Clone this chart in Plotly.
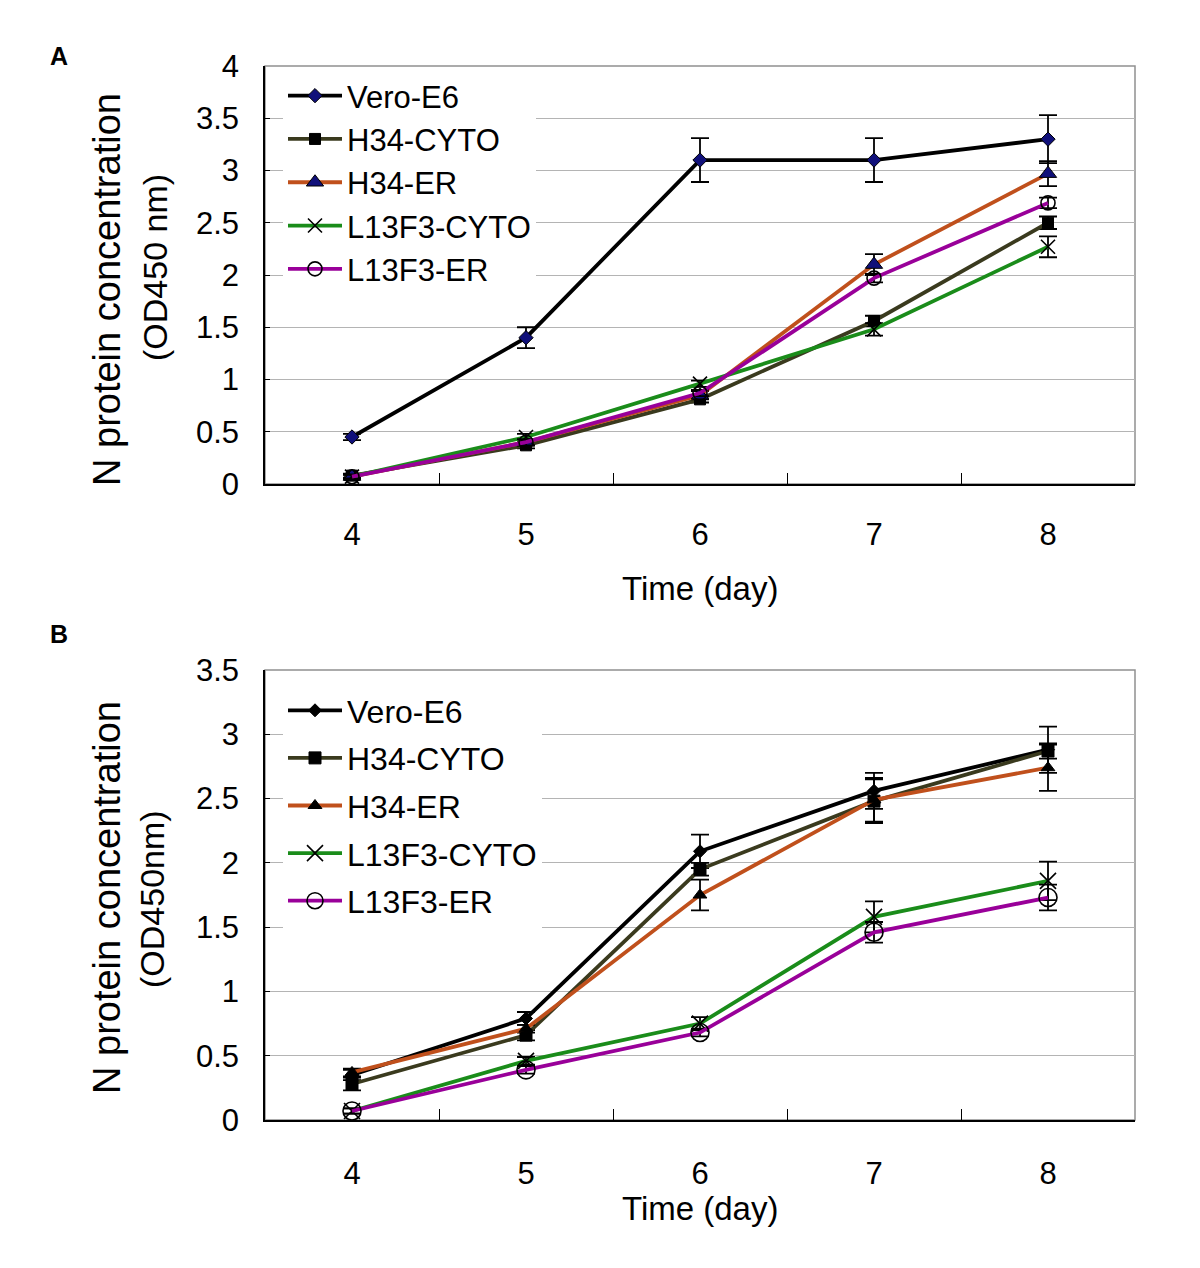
import plotly.graph_objects as go

days = [4, 5, 6, 7, 8]
series_names = ["Vero-E6", "H34-CYTO", "H34-ER", "L13F3-CYTO", "L13F3-ER"]

# Panel A values and error bars
a_vero = [0.45, 1.40, 3.10, 3.10, 3.30]
a_h34cyto = [0.08, 0.37, 0.81, 1.56, 2.50]
a_h34er = [0.07, 0.40, 0.85, 2.10, 2.97]
a_l13cyto = [0.07, 0.45, 0.96, 1.48, 2.27]
a_l13er = [0.07, 0.40, 0.87, 1.97, 2.69]
a_vero_err = [0.03, 0.10, 0.21, 0.21, 0.23]
a_h34cyto_err = [0.02, 0.03, 0.03, 0.05, 0.06]
a_h34er_err = [0.02, 0.03, 0.04, 0.10, 0.12]
a_l13cyto_err = [0.02, 0.03, 0.03, 0.06, 0.10]
a_l13er_err = [0.02, 0.03, 0.03, 0.04, 0.05]

# Panel B values and error bars
b_vero = [0.35, 0.79, 2.09, 2.56, 2.88]
b_h34cyto = [0.28, 0.66, 1.95, 2.48, 2.87]
b_h34er = [0.37, 0.71, 1.75, 2.49, 2.74]
b_l13cyto = [0.07, 0.46, 0.75, 1.58, 1.86]
b_l13er = [0.07, 0.39, 0.68, 1.46, 1.73]
b_vero_err = [0.04, 0.05, 0.13, 0.14, 0.18]
b_h34cyto_err = [0.05, 0.04, 0.05, 0.17, 0.06]
b_h34er_err = [0.03, 0.03, 0.12, 0.17, 0.18]
b_l13cyto_err = [0.02, 0.03, 0.05, 0.12, 0.15]
b_l13er_err = [0.02, 0.03, 0.03, 0.08, 0.10]

a_ticks = [0, 0.5, 1, 1.5, 2, 2.5, 3, 3.5, 4]
a_ticklabels = ["0", "0.5", "1", "1.5", "2", "2.5", "3", "3.5", "4"]
b_ticks = [0, 0.5, 1, 1.5, 2, 2.5, 3, 3.5]
b_ticklabels = ["0", "0.5", "1", "1.5", "2", "2.5", "3", "3.5"]

line_colors = ["#000000", "#3a3a1e", "#c0501c", "#1a8c1a", "#990099"]
FONT = "Liberation Sans, Arial, sans-serif"

W, H = 1200, 1268
OFF = 8  # page body margin


def px(x):
    return (x - OFF) / W


def py(y):
    return 1 - (y - OFF) / H


xl, xr = px(265), px(1135)
a_dom = [py(484), py(66)]
b_dom = [py(1120), py(670)]

fig = go.Figure()

a_vals = [a_vero, a_h34cyto, a_h34er, a_l13cyto, a_l13er]
a_errs = [a_vero_err, a_h34cyto_err, a_h34er_err, a_l13cyto_err, a_l13er_err]
b_vals = [b_vero, b_h34cyto, b_h34er, b_l13cyto, b_l13er]
b_errs = [b_vero_err, b_h34cyto_err, b_h34er_err, b_l13cyto_err, b_l13er_err]

a_markers = [
    dict(symbol="diamond", size=11, color="#10107a", line=dict(color="#000000", width=1)),
    dict(symbol="square", size=11, color="#000000", line=dict(color="#000000", width=1)),
    dict(symbol="triangle-up", size=15, color="#10107a", line=dict(color="#000000", width=1)),
    dict(symbol="x-thin", size=14, color="#000000", line=dict(color="#000000", width=1.6)),
    dict(symbol="circle-open", size=14, color="#000000", line=dict(color="#000000", width=1.6)),
]
b_markers = [
    dict(symbol="diamond", size=10, color="#000000", line=dict(color="#000000", width=1)),
    dict(symbol="square", size=12, color="#000000", line=dict(color="#000000", width=1)),
    dict(symbol="triangle-up", size=12, color="#000000", line=dict(color="#000000", width=1)),
    dict(symbol="x-thin", size=16, color="#000000", line=dict(color="#000000", width=1.6)),
    dict(symbol="circle-open", size=18, color="#000000", line=dict(color="#000000", width=1.6)),
]

for i, name in enumerate(series_names):
    fig.add_trace(go.Scatter(
        x=days, y=a_vals[i], name=name, mode="lines+markers",
        line=dict(color=line_colors[i], width=3.8), marker=a_markers[i],
        error_y=dict(type="data", array=a_errs[i], color="#000000", thickness=1.8, width=9),
        xaxis="x", yaxis="y", legend="legend", legendgroup="a" + str(i),
    ))
for i, name in enumerate(series_names):
    fig.add_trace(go.Scatter(
        x=days, y=b_vals[i], name=name, mode="lines+markers",
        line=dict(color=line_colors[i], width=3.8), marker=b_markers[i],
        error_y=dict(type="data", array=b_errs[i], color="#000000", thickness=1.8, width=9),
        xaxis="x2", yaxis="y2", legend="legend2", legendgroup="b" + str(i),
    ))

xcommon = dict(
    range=[3.5, 8.5], tickvals=days, ticktext=[str(d) for d in days],
    ticks="", showgrid=False, zeroline=False, automargin=False,
    showline=True, linecolor="#000000", linewidth=1.5,
    tickfont=dict(family=FONT, size=31, color="#000000"),
    minor=dict(tickvals=[4.5, 5.5, 6.5, 7.5], ticks="inside", ticklen=11,
               tickcolor="#000000", tickwidth=1.2, showgrid=False),
    domain=[xl, xr], fixedrange=True,
)
ycommon = dict(
    ticks="inside", ticklen=5, tickcolor="#000000", tickwidth=1,
    showgrid=True, gridcolor="#b4b4b4", gridwidth=1.2, zeroline=False,
    showline=True, linecolor="#000000", linewidth=1.5, automargin=False,
    tickfont=dict(family=FONT, size=31, color="#000000"),
    ticklabelstandoff=18, fixedrange=True,
)

fig.update_layout(
    width=W, height=H,
    margin=dict(l=0, r=0, t=0, b=0),
    paper_bgcolor="white", plot_bgcolor="white",
    showlegend=True,
    xaxis=dict(**xcommon, anchor="y", ticklabelstandoff=22),
    yaxis=dict(**ycommon, range=[0, 4], tickvals=a_ticks, ticktext=a_ticklabels,
               domain=a_dom, anchor="x"),
    xaxis2=dict(**xcommon, anchor="y2", ticklabelstandoff=25),
    yaxis2=dict(**ycommon, range=[0, 3.5], tickvals=b_ticks, ticktext=b_ticklabels,
                domain=b_dom, anchor="x2"),
    legend=dict(x=px(283), y=py(69), xanchor="left", yanchor="top",
                bgcolor="white", font=dict(family=FONT, size=31, color="#000000"),
                traceorder="grouped", tracegroupgap=0, itemwidth=54),
    legend2=dict(x=px(283), y=py(683), xanchor="left", yanchor="top",
                 bgcolor="white", font=dict(family=FONT, size=32, color="#000000"),
                 traceorder="grouped", tracegroupgap=3, itemwidth=54),
)

# plot frame (grey top/right)
for dom in (a_dom, b_dom):
    fig.add_shape(type="rect", xref="paper", yref="paper",
                  x0=xl, x1=xr, y0=dom[0], y1=dom[1],
                  line=dict(color="#909090", width=1.5), layer="below")

ann = []
ann.append(dict(text="<b>A</b>", x=px(59), y=py(56), font=dict(size=25)))
ann.append(dict(text="<b>B</b>", x=px(59), y=py(634), font=dict(size=25)))
ann.append(dict(text="N protein concentration", x=px(107), y=py(290),
                textangle=-90, font=dict(size=38)))
ann.append(dict(text="(OD450 nm)", x=px(155), y=py(268),
                textangle=-90, font=dict(size=34)))
ann.append(dict(text="N protein concentration", x=px(107), y=py(898),
                textangle=-90, font=dict(size=38)))
ann.append(dict(text="(OD450nm)", x=px(152), y=py(899),
                textangle=-90, font=dict(size=34)))
ann.append(dict(text="Time (day)", x=px(700), y=py(588), font=dict(size=33)))
ann.append(dict(text="Time (day)", x=px(700), y=py(1208), font=dict(size=33)))
for a in ann:
    a.update(xref="paper", yref="paper", showarrow=False, xanchor="center", yanchor="middle")
    a["font"].update(family=FONT, color="#000000")
    fig.add_annotation(**a)

fig.write_html("out.html")
